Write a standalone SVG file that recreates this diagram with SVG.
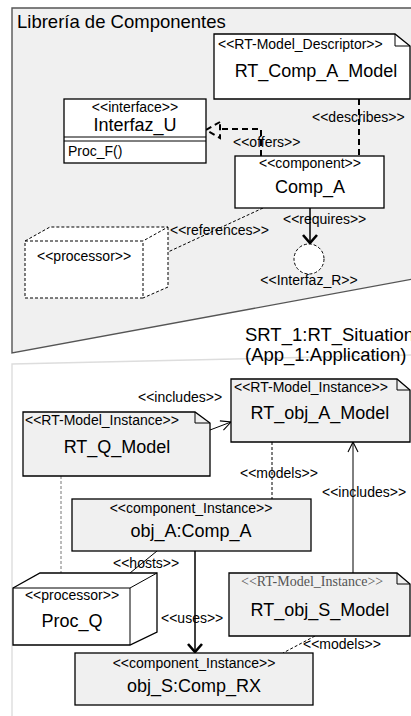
<svg xmlns="http://www.w3.org/2000/svg" width="411" height="716" viewBox="0 0 411 716">
  <defs>
    <style>
      text { font-family: "Liberation Sans", Arial, sans-serif; fill: #000; }
      .title { font-size: 18.5px; }
      .name { font-size: 18px; text-anchor: middle; }
      .st { font-size: 14px; }
      .stc { font-size: 14px; text-anchor: middle; }
      .lbl { font-size: 14px; }
      .serif { font-family: "Liberation Serif", "Times New Roman", serif; fill: #555; font-size: 14px; }
      .box { fill: #fff; stroke: #000; stroke-width: 1.3; }
      .gbox { fill: #f0f0f0; stroke: #000; stroke-width: 1.3; }
      .thin { fill: none; stroke: #000; stroke-width: 1; }
      .fine-dash { fill: none; stroke: #000; stroke-width: 1; stroke-dasharray: 3 2; }
      .bold-dash { fill: none; stroke: #000; stroke-width: 2; stroke-dasharray: 6 4; }
      .bold { fill: none; stroke: #000; stroke-width: 1.5; }
      .head { fill: none; stroke: #000; stroke-width: 2.6; }
    </style>
    <marker id="open" viewBox="0 0 12 12" refX="11" refY="6" markerWidth="12" markerHeight="12" markerUnits="userSpaceOnUse" orient="auto">
      <path d="M1,1 L11,6 L1,11" fill="none" stroke="#000" stroke-width="1.1"/>
    </marker>
  </defs>

  <!-- package: component library -->
  <g id="pkg-library">
    <path d="M12,8 H413 V279 L12,353 Z" fill="#f0f0f0" stroke="#555" stroke-width="1.4"/>
    <text class="title" x="17" y="28">Librería de Componentes</text>
  </g>

  <!-- package: real-time situation -->
  <g id="pkg-situation">
    <path d="M12,364 L413,355 V720 H12 Z" fill="#fff" stroke="#ddd" stroke-width="1.4"/>
    <text class="title" x="245" y="341">SRT_1:RT_Situation</text>
    <text class="title" x="245" y="361">(App_1:Application)</text>
  </g>

  <!-- connectors -->
  <g id="connectors">
    <!-- describes -->
    <line class="bold-dash" x1="359" y1="99" x2="359" y2="156"/>
    <text class="lbl" x="312" y="122">&lt;&lt;describes&gt;&gt;</text>
    <!-- offers -->
    <path class="bold-dash" d="M261,156 V129 H221"/>
    <path class="bold-dash" d="M220,122 L206,130 L220,138 Z" stroke-dasharray="5 3"/>
    <text class="lbl" x="233" y="147">&lt;&lt;offers&gt;&gt;</text>
    <!-- requires -->
    <line class="bold" x1="310" y1="208" x2="310" y2="243"/>
    <path class="head" d="M303,235 L310,243 L317,235"/>
    <text class="lbl" x="283" y="224">&lt;&lt;requires&gt;&gt;</text>
    <!-- references -->
    <line class="fine-dash" x1="263" y1="208" x2="168" y2="252"/>
    <text class="lbl" x="170" y="235">&lt;&lt;references&gt;&gt;</text>

    <!-- includes (RT_Q_Model -> RT_obj_A_Model) -->
    <line class="thin" x1="210" y1="430" x2="231" y2="422" marker-end="url(#open)"/>
    <text class="lbl" x="138" y="402">&lt;&lt;includes&gt;&gt;</text>
    <!-- models (RT_obj_A_Model - obj_A) -->
    <line class="fine-dash" x1="272" y1="442" x2="272" y2="499"/>
    <text class="lbl" x="240" y="478">&lt;&lt;models&gt;&gt;</text>
    <!-- includes (RT_obj_S_Model -> RT_obj_A_Model) -->
    <line class="thin" x1="353" y1="573" x2="353" y2="442" marker-end="url(#open)"/>
    <text class="lbl" x="322" y="497">&lt;&lt;includes&gt;&gt;</text>
    <!-- RT_Q_Model - Proc_Q -->
    <line x1="61" y1="476" x2="61" y2="573" fill="none" stroke="#777" stroke-width="1" stroke-dasharray="3 2"/>
    <!-- hosts -->
    <line class="thin" x1="157" y1="551" x2="130" y2="573"/>
    <text class="lbl" x="113" y="568">&lt;&lt;hosts&gt;&gt;</text>
    <!-- uses -->
    <line class="bold" x1="195" y1="551" x2="195" y2="653"/>
    <path class="head" d="M188,644 L195,652 L202,644"/>
    <text class="lbl" x="161" y="623">&lt;&lt;uses&gt;&gt;</text>
    <!-- models (RT_obj_S_Model - obj_S) -->
    <line class="fine-dash" x1="315" y1="636" x2="283" y2="653"/>
    <text class="lbl" x="303" y="649">&lt;&lt;models&gt;&gt;</text>
  </g>

  <!-- library nodes -->
  <g id="RT_Comp_A_Model">
    <path class="box" d="M214,34 H395 L410,46 V99 H214 Z"/>
    <path class="thin" d="M395,34 V46 H410"/>
    <text class="st" x="218" y="49">&lt;&lt;RT-Model_Descriptor&gt;&gt;</text>
    <text class="name" x="316" y="77">RT_Comp_A_Model</text>
  </g>

  <g id="Interfaz_U">
    <rect class="box" x="64" y="99" width="142" height="64"/>
    <line class="thin" x1="64" y1="137" x2="206" y2="137"/>
    <line class="thin" x1="64" y1="141" x2="206" y2="141"/>
    <text class="stc" x="135" y="112">&lt;&lt;interface&gt;&gt;</text>
    <text class="name" x="135" y="131">Interfaz_U</text>
    <text class="lbl" x="68" y="156">Proc_F()</text>
  </g>

  <g id="Comp_A">
    <rect class="box" x="235" y="156" width="149" height="52"/>
    <text class="stc" x="310" y="168">&lt;&lt;component&gt;&gt;</text>
    <text class="name" x="310" y="193">Comp_A</text>
  </g>

  <g id="Interfaz_R">
    <circle cx="309" cy="259" r="15" fill="#fff" stroke="#000" stroke-width="1" stroke-dasharray="3 2"/>
    <text class="stc" x="309" y="285">&lt;&lt;Interfaz_R&gt;&gt;</text>
  </g>

  <g id="processor">
    <path d="M25,241 L50,227 H168 V287 L143,298 H25 Z" fill="#fff" stroke="none"/>
    <path class="fine-dash" d="M25,241 H143 V298 H25 Z"/>
    <path class="fine-dash" d="M25,241 L50,227 H168 L143,241 M168,227 V287 L143,298"/>
    <text class="st" x="37" y="261">&lt;&lt;processor&gt;&gt;</text>
  </g>

  <!-- situation nodes -->
  <g id="RT_obj_A_Model">
    <path class="gbox" d="M231,379 H397 L410,390 V442 H231 Z"/>
    <path class="thin" d="M397,379 V390 H410"/>
    <text class="st" x="234" y="392">&lt;&lt;RT-Model_Instance&gt;&gt;</text>
    <text class="name" x="320" y="419">RT_obj_A_Model</text>
  </g>

  <g id="RT_Q_Model">
    <path class="gbox" d="M23,412 H195 L210,423 V476 H23 Z"/>
    <path class="thin" d="M195,412 V423 H210"/>
    <text class="st" x="25" y="425">&lt;&lt;RT-Model_Instance&gt;&gt;</text>
    <text class="name" x="117" y="453">RT_Q_Model</text>
  </g>

  <g id="obj_A">
    <rect class="gbox" x="72" y="499" width="239" height="52"/>
    <text class="stc" x="191" y="513">&lt;&lt;component_Instance&gt;&gt;</text>
    <text class="name" x="191" y="537">obj_A:Comp_A</text>
  </g>

  <g id="Proc_Q">
    <path class="box" d="M13,588 L40,573 H157 V632 L130,645 H13 Z"/>
    <path class="thin" d="M13,588 H130 V645 M130,588 L157,573"/>
    <text class="stc" x="72" y="600">&lt;&lt;processor&gt;&gt;</text>
    <text class="name" x="72" y="627">Proc_Q</text>
  </g>

  <g id="RT_obj_S_Model">
    <path class="gbox" d="M229,573 H397 L410,584 V636 H229 Z"/>
    <path class="thin" d="M397,573 V584 H410"/>
    <text class="serif" x="241" y="586">&lt;&lt;RT-Model_Instance&gt;&gt;</text>
    <text class="name" x="320" y="616">RT_obj_S_Model</text>
  </g>

  <g id="obj_S">
    <rect class="gbox" x="75" y="653" width="238" height="52"/>
    <text class="stc" x="194" y="668">&lt;&lt;component_Instance&gt;&gt;</text>
    <text class="name" x="194" y="692">obj_S:Comp_RX</text>
  </g>
</svg>
